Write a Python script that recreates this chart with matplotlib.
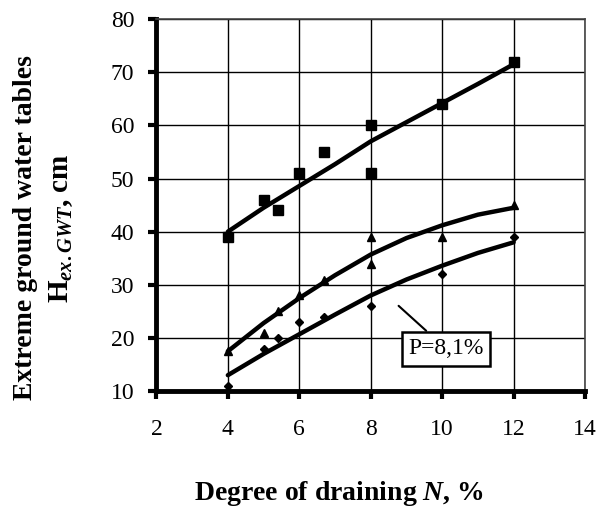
import matplotlib
matplotlib.use("Agg")
import matplotlib.pyplot as plt

plt.rcParams['font.family'] = ['Liberation Serif', 'DejaVu Serif']
plt.rcParams['mathtext.fontset'] = 'custom'
plt.rcParams['mathtext.rm'] = 'Liberation Serif:bold'
plt.rcParams['mathtext.it'] = 'Liberation Serif:italic:bold'
plt.rcParams['mathtext.bf'] = 'Liberation Serif:bold'

# Observed points
sq_x = [4, 5, 5.4, 6, 6.7, 8, 8, 10, 12]
sq_y = [39, 46, 44, 51, 55, 60, 51, 64, 72]
tri_x = [4, 5, 5.4, 6, 6.7, 8, 8, 10, 12]
tri_y = [17.5, 21, 25, 28, 31, 39, 34, 39, 45]
dia_x = [4, 5, 5.4, 6, 6.7, 8, 10, 12]
dia_y = [11, 18, 20, 23, 24, 26, 32, 39]

# Trend curves
trend_x = [4, 5, 6, 7, 8, 9, 10, 11, 12]
trend_sq = [40, 44.5, 48.6, 52.7, 57, 60.6, 64.2, 67.8, 71.5]
trend_tri = [17.5, 22.8, 27.5, 31.8, 35.7, 38.8, 41.2, 43.2, 44.5]
trend_dia = [13, 17, 20.7, 24.4, 28, 31, 33.6, 36, 38]

x_ticks = [2, 4, 6, 8, 10, 12, 14]
y_ticks = [10, 20, 30, 40, 50, 60, 70, 80]

fig = plt.figure(figsize=(5.97, 5.16), dpi=100)
ax = fig.add_axes([0.262, 0.242, 0.718, 0.721])

ax.set_xlim(2, 14)
ax.set_ylim(10, 80)
ax.set_xticks(x_ticks)
ax.set_yticks(y_ticks)
ax.grid(True, color='black', linewidth=1.0)
ax.set_axisbelow(True)

for tx, ty in [(trend_x, trend_sq), (trend_x, trend_tri), (trend_x, trend_dia)]:
    ax.plot(tx, ty, color='black', linewidth=3.2, solid_capstyle='round', zorder=3)

ax.plot(sq_x, sq_y, 's', color='black', markersize=7, zorder=4, clip_on=False)
ax.plot(tri_x, tri_y, '^', color='black', markersize=6, zorder=4, clip_on=False)
ax.plot(dia_x, dia_y, 'D', color='black', markersize=4.5, zorder=4, clip_on=False)

ax.annotate('P=8,1%', xy=(8.78, 26.05), xytext=(10.11, 17.97),
            fontsize=17, ha='center', va='center',
            bbox=dict(boxstyle='square,pad=0.28', fc='white', ec='black', lw=1.8),
            arrowprops=dict(arrowstyle='-', color='black', lw=1.5, shrinkA=0, shrinkB=0),
            zorder=5)

for side in ['left', 'bottom']:
    ax.spines[side].set_linewidth(3.5)
    ax.spines[side].set_color('black')
for side in ['right', 'top']:
    ax.spines[side].set_linewidth(1.2)
    ax.spines[side].set_color('#444444')

ax.tick_params(axis='both', direction='out', length=6, width=3, labelsize=17)
ax.tick_params(axis='y', pad=10)
ax.tick_params(axis='x', pad=14)

fig.text(0.567, 1 - 500 / 516, r'Degree of draining $\mathit{N}$, %', ha='center', va='baseline',
         fontsize=20, fontweight='bold')
fig.text(32 / 597, 1 - 227.5 / 516, 'Extreme ground water tables', rotation=90,
         rotation_mode='anchor', ha='center', va='baseline',
         fontsize=20, fontweight='bold')
fig.text(68 / 597, 1 - 228.5 / 516, r'H$_{\mathit{ex.GWT}}$, cm', rotation=90,
         rotation_mode='anchor', ha='center', va='baseline',
         fontsize=21, fontweight='bold')

fig.savefig('out.png', dpi=100)
